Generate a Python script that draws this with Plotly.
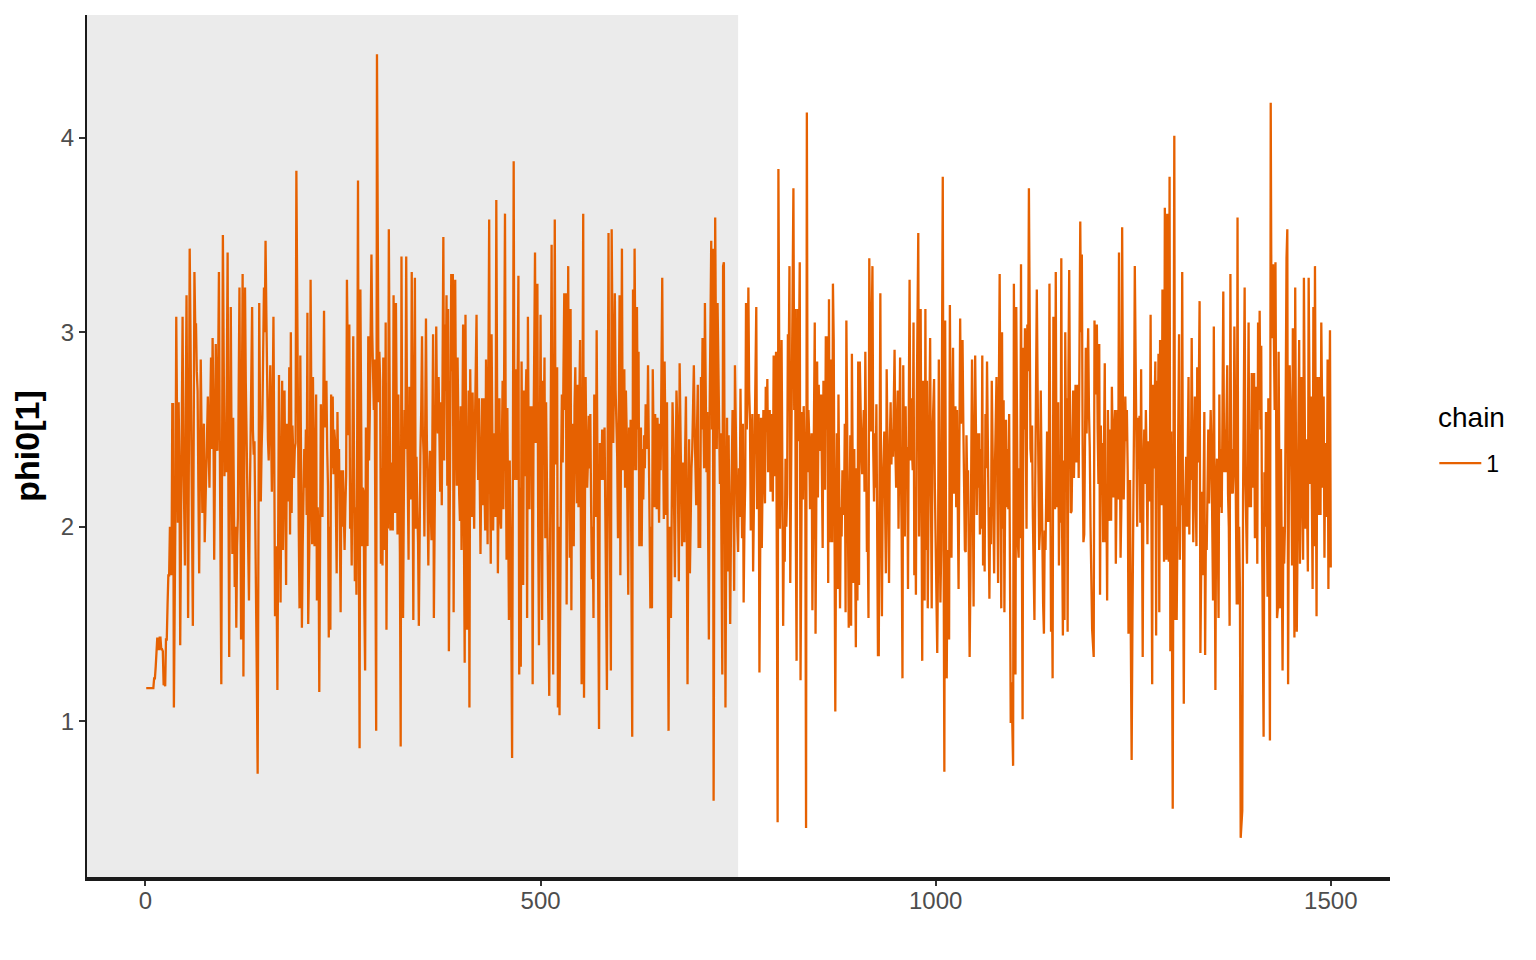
import plotly.graph_objects as go

# ---- data ----
chain_label = "1"
legend_title = "chain"
y_title = "phi0[1]"
n_warmup = 750
x_ticks = [0, 500, 1000, 1500]
y_ticks = [1, 2, 3, 4]

phi_0001_0150 = [
1.17,1.17,1.17,1.17,1.17,1.17,1.17,1.17,1.17,1.17,
1.22,1.22,1.28,1.36,1.43,1.37,1.37,1.43,1.43,1.37,
1.37,1.36,1.19,1.19,1.18,1.42,1.42,1.60,1.75,1.75,
2.00,1.85,1.75,2.63,2.63,1.07,1.50,2.10,3.08,2.55,
2.02,2.64,2.30,1.39,1.90,2.50,3.08,2.40,2.10,1.80,
2.60,3.19,2.40,1.53,2.40,3.43,3.00,2.64,2.00,1.49,
2.60,3.31,3.04,3.04,2.80,2.70,2.20,1.76,2.30,2.86,
2.50,2.07,2.30,2.53,1.92,2.10,2.26,2.45,2.67,2.40,
2.20,2.60,2.87,2.40,2.97,2.60,1.83,2.30,2.94,2.60,
2.39,2.80,3.31,2.50,1.80,1.19,2.40,3.50,2.90,2.26,
2.50,2.28,2.80,3.41,2.20,1.33,2.40,3.13,2.40,1.86,
2.56,2.20,1.69,2.00,1.48,1.90,2.05,2.70,3.23,2.40,
1.42,2.60,3.30,1.23,2.40,3.23,2.74,2.40,2.11,1.90,
1.62,2.10,2.49,2.90,3.13,2.50,2.37,2.44,2.10,1.58,
1.20,0.73,2.00,3.15,2.60,2.13,2.40,2.56,2.90,3.23,
]
phi_0151_0300 = [
3.00,3.47,3.10,2.53,2.45,2.34,2.60,2.83,2.50,2.18,
2.60,3.08,2.40,1.54,1.90,1.68,1.16,2.00,2.78,2.20,
1.61,2.20,2.75,1.88,2.30,2.70,2.20,1.70,2.53,2.30,
2.13,2.82,1.96,3.00,2.07,2.52,2.30,2.25,2.40,2.43,
3.83,3.00,2.39,2.00,1.58,2.88,2.30,1.48,1.90,2.15,
2.40,2.20,2.50,2.06,3.10,1.50,1.90,2.06,3.27,2.50,
1.91,2.77,2.30,1.90,2.30,2.68,1.62,2.10,1.96,1.15,
1.90,2.63,2.30,2.05,2.60,3.11,2.51,2.60,2.75,2.40,
2.21,1.43,2.00,1.47,2.68,2.30,2.67,2.27,2.50,2.44,
2.10,1.76,2.59,2.20,2.40,2.00,1.56,2.29,2.00,2.29,
2.10,1.88,2.10,2.26,3.27,2.80,2.47,3.04,1.99,2.20,
1.80,2.40,2.98,2.30,1.72,2.10,1.65,2.50,3.78,2.00,
0.86,3.22,2.50,1.90,2.20,2.18,1.60,1.26,2.51,2.20,
1.90,2.98,2.34,2.60,2.92,3.40,3.00,2.73,2.60,2.86,
1.80,0.95,4.43,3.20,2.64,2.90,2.75,1.81,2.30,1.80,
]
phi_0301_0450 = [
2.87,2.40,1.88,3.05,1.47,2.30,1.99,3.53,2.60,1.98,
2.33,2.10,1.98,3.19,2.60,2.07,3.15,2.50,1.96,2.68,
2.20,1.87,0.87,3.39,2.40,1.53,2.15,2.60,2.40,3.39,
2.60,2.18,1.83,2.72,2.30,2.14,3.31,2.30,1.52,2.60,
3.28,1.99,2.36,2.10,1.92,1.49,2.19,2.39,2.60,2.98,
2.50,2.37,1.95,2.40,3.07,2.50,1.95,1.80,2.20,2.39,
2.10,1.93,2.40,2.99,1.53,2.00,2.47,3.03,2.60,2.48,
2.77,2.40,2.18,2.64,2.11,2.80,3.49,2.34,3.04,2.70,
3.19,2.21,3.12,1.36,2.00,2.59,3.30,2.80,3.30,1.56,
2.40,3.27,2.60,2.21,2.87,2.40,2.17,2.03,2.62,1.88,
2.50,3.04,2.00,1.30,3.09,2.20,1.47,2.20,2.70,1.07,
2.81,2.40,2.05,2.69,2.30,1.99,2.53,2.80,3.09,2.50,
2.24,2.66,2.20,1.86,2.30,2.66,2.11,2.66,2.20,1.98,
2.86,2.40,1.91,2.80,3.58,2.30,1.81,2.99,2.40,1.98,
2.48,2.20,2.05,3.68,2.60,1.76,2.20,2.66,2.05,1.99,
]
phi_0451_0600 = [
2.40,2.75,2.09,2.90,3.61,2.40,1.83,2.61,2.00,1.52,
2.34,2.00,1.52,0.81,2.00,3.88,2.24,2.50,2.81,2.24,
2.90,3.29,1.24,2.20,1.28,2.85,2.20,1.70,2.70,2.26,
2.60,2.81,1.53,3.08,2.40,2.09,2.62,2.30,2.62,1.19,
2.40,3.33,3.41,2.43,2.80,3.25,2.00,1.39,2.30,3.09,
2.20,1.52,2.75,2.50,2.87,1.94,2.64,2.30,1.94,1.50,
1.13,1.84,2.60,3.45,2.30,1.24,2.40,3.58,2.32,2.60,
2.82,1.07,2.00,1.03,1.88,2.30,2.68,2.33,2.80,3.20,
2.60,3.20,1.60,2.50,3.34,2.30,1.84,3.12,1.57,2.53,
2.20,1.90,2.62,2.82,2.40,2.12,2.73,2.10,2.60,2.96,
2.00,1.19,2.50,3.61,1.12,2.20,2.77,2.40,2.20,2.34,
2.57,2.30,2.58,2.10,1.73,2.00,1.53,2.68,2.40,2.05,
3.01,2.40,1.72,0.96,2.43,2.30,2.24,2.50,2.39,2.24,
2.51,2.00,1.45,1.16,2.50,3.51,2.40,1.68,1.26,3.53,
2.80,2.43,2.80,3.20,2.70,2.50,2.36,1.94,2.60,3.19,
]
phi_0601_0750 = [
1.75,2.60,3.43,2.29,2.60,2.81,2.20,2.70,2.49,2.00,
1.65,2.51,2.20,2.55,1.50,0.92,3.22,2.29,3.43,2.70,
2.29,3.13,2.50,2.90,1.90,2.20,2.51,1.90,2.40,2.14,
2.47,2.30,2.63,2.55,2.40,2.83,2.40,2.03,1.58,2.00,
1.58,2.81,2.40,2.10,2.58,2.30,2.09,2.56,2.30,2.02,
2.53,2.29,2.80,3.28,2.50,2.04,2.85,2.40,2.06,2.64,
1.80,0.95,2.00,1.86,1.53,2.20,2.64,2.45,2.10,1.74,
2.30,2.70,2.55,2.10,1.72,2.84,2.40,2.02,1.90,2.33,
2.10,1.92,2.40,2.67,2.00,1.19,2.00,2.45,1.76,2.17,
2.30,2.40,2.60,2.83,2.51,2.30,2.11,2.50,2.73,1.89,
2.30,1.89,2.77,2.50,2.97,2.60,2.30,3.15,2.60,2.28,
2.59,2.00,1.42,2.60,3.00,3.47,2.50,3.43,0.59,2.00,
3.59,2.90,2.40,3.15,2.70,2.45,2.22,2.48,1.80,1.24,
3.34,3.36,2.20,1.07,2.00,2.56,1.77,2.47,2.00,1.50,
2.00,2.33,2.60,2.33,1.67,2.83,2.40,2.26,2.00,1.87,
]
phi_0751_0900 = [
2.30,2.05,2.71,2.30,1.94,2.53,1.61,2.00,2.22,3.15,
2.50,2.74,3.23,2.70,2.55,1.98,2.30,2.58,1.77,2.20,
2.59,2.90,3.13,2.09,2.40,2.58,1.25,2.00,2.56,1.89,
2.40,2.60,2.30,2.12,2.72,2.50,2.76,2.28,2.40,2.60,
2.18,2.40,2.58,2.13,2.88,2.26,2.60,2.90,1.80,0.48,
3.84,2.60,1.99,2.40,2.96,2.30,1.49,2.00,1.82,2.35,
2.00,2.17,2.99,2.80,3.34,1.71,2.20,2.63,3.20,3.74,
2.60,3.12,2.00,1.31,3.12,2.44,2.90,3.36,1.21,2.00,
2.59,2.14,2.62,2.40,2.29,0.45,4.13,2.28,2.60,2.46,
2.09,2.30,2.48,1.57,2.20,2.74,3.05,1.45,2.00,2.85,
2.15,2.73,2.50,2.39,2.68,2.30,1.89,2.75,2.40,2.19,
2.98,2.50,2.98,1.71,3.17,1.92,2.86,2.30,1.92,3.25,
2.96,2.00,1.05,2.00,2.48,1.68,2.68,2.20,1.58,2.10,
1.95,2.29,2.20,2.06,2.53,1.56,3.06,2.40,2.21,1.48,
2.00,2.47,1.49,2.89,2.30,1.71,2.40,1.90,1.38,2.30,
]
phi_0901_1050 = [
1.62,2.85,1.70,2.85,2.50,2.39,2.27,2.40,2.60,2.18,
2.90,2.40,1.87,2.00,1.53,3.38,2.80,2.49,3.00,3.34,
2.40,2.13,2.48,2.20,2.63,1.80,1.34,1.34,2.40,3.20,
2.10,1.54,2.20,2.41,2.49,2.10,1.76,2.81,2.30,2.00,
1.71,2.44,2.64,2.32,2.50,2.36,2.60,2.91,2.40,2.20,
2.50,2.70,1.99,2.40,2.87,2.30,1.94,1.22,2.83,2.30,
1.95,2.62,2.20,2.41,1.68,2.60,3.27,2.34,2.66,2.40,
2.29,3.05,1.75,2.20,1.65,2.60,3.39,3.51,1.95,2.60,
3.12,2.20,1.31,2.75,2.20,1.62,3.12,1.88,2.75,1.58,
2.10,2.48,2.97,2.20,1.58,2.47,2.60,2.76,2.20,1.81,
1.60,1.35,1.84,2.86,2.20,1.61,1.88,2.80,3.80,2.00,
0.74,3.06,2.00,1.22,1.88,1.60,1.42,3.14,2.40,1.84,
2.50,2.92,2.17,2.40,2.62,2.10,2.60,2.10,1.68,2.40,
3.07,2.53,2.80,2.96,2.53,2.20,1.88,1.87,2.47,2.20,
2.29,1.80,1.33,1.73,2.30,2.86,2.20,1.59,2.40,2.88,
]
phi_1051_1200 = [
2.50,2.06,2.48,2.20,2.48,1.96,2.40,1.99,2.88,1.80,
2.20,1.77,2.58,2.30,2.85,2.48,2.20,1.63,2.10,1.91,
2.75,2.30,1.92,1.76,2.30,2.71,2.77,2.20,1.71,2.70,
3.30,2.40,1.58,3.00,1.99,2.65,1.56,2.20,2.55,2.10,
2.40,2.09,2.58,1.80,0.99,1.20,1.00,0.77,3.25,2.20,
1.24,3.13,2.40,1.92,1.84,2.30,1.94,3.35,2.00,1.01,
2.92,2.50,3.02,2.40,1.99,3.04,2.80,3.74,2.64,2.40,
2.33,2.52,2.05,1.80,1.52,2.21,2.80,3.22,2.73,2.20,
1.88,1.98,2.70,2.30,1.86,1.60,1.45,1.98,1.88,2.20,
2.49,2.03,2.03,3.25,2.00,1.46,1.80,1.22,3.08,2.40,
2.09,3.31,2.10,2.40,2.64,1.80,2.20,2.02,3.38,2.00,
1.44,2.34,1.52,3.00,2.40,2.66,1.46,2.79,3.32,2.60,
2.07,2.08,2.40,2.70,2.25,2.50,2.73,2.33,2.50,2.73,
2.25,2.90,3.57,3.00,3.40,2.40,1.92,1.96,2.40,2.92,
2.48,2.70,3.02,2.60,2.41,2.00,1.53,1.47,1.40,1.33,
]
phi_1201_1350 = [
3.06,2.68,2.90,3.04,2.50,2.22,2.94,1.65,2.52,2.20,
2.43,1.92,2.40,2.84,1.92,2.20,1.62,2.60,2.30,2.03,
2.50,2.03,2.72,2.40,2.15,2.50,2.60,1.81,2.34,2.60,
2.14,3.41,2.50,1.84,2.10,3.54,2.60,2.14,2.40,2.67,
2.44,2.60,2.29,1.45,2.00,2.24,1.40,0.80,1.50,1.86,
2.53,3.34,2.70,2.36,2.00,2.56,2.30,2.57,2.02,2.81,
1.80,1.33,2.32,2.50,2.22,2.60,2.34,1.91,2.44,2.20,
2.13,3.09,2.20,1.19,2.73,2.30,2.60,2.85,1.44,2.75,
2.40,2.89,1.56,2.96,2.50,2.11,3.22,2.40,1.82,3.64,
2.60,1.83,3.61,2.50,1.82,3.80,1.36,2.49,1.60,0.55,
2.40,4.01,1.52,2.00,1.52,1.92,2.40,2.99,1.83,2.30,
2.11,3.31,2.00,1.09,2.00,2.29,2.36,2.00,2.40,2.77,
1.96,2.40,2.24,2.97,2.40,1.92,2.30,2.67,2.20,1.90,
2.82,2.33,2.70,3.16,1.35,2.00,2.18,1.75,2.30,2.59,
1.34,2.00,1.88,2.28,2.50,2.12,2.40,2.60,2.42,2.00,
]
phi_1351_1500 = [
1.62,3.03,2.00,1.16,2.22,2.35,2.00,1.53,2.68,2.10,
2.40,2.07,2.60,3.21,2.28,2.50,2.28,2.50,2.83,2.17,
2.00,1.49,3.30,2.17,2.40,2.17,2.29,3.03,2.60,2.29,
1.60,3.59,1.60,2.00,1.69,0.40,0.48,0.54,2.15,2.60,
3.23,2.22,2.00,1.81,2.40,3.05,2.10,2.40,2.10,2.79,
2.56,2.20,2.79,1.94,2.40,2.72,1.81,3.05,2.60,3.11,
2.50,2.93,1.99,1.40,0.92,2.28,2.00,2.59,2.20,1.64,
2.66,1.80,0.90,4.18,3.00,2.97,3.35,2.97,2.60,3.36,
2.20,1.53,1.58,2.90,2.20,1.58,2.40,1.86,1.26,2.00,
1.81,2.00,2.80,3.38,3.53,1.19,2.20,2.83,2.60,2.37,
1.80,3.02,2.20,1.43,3.23,2.20,1.46,1.95,2.40,2.96,
1.81,2.40,2.77,2.20,1.83,3.28,2.40,1.99,2.45,2.10,
1.77,3.28,2.60,2.22,2.67,2.20,1.68,3.13,1.90,3.34,
2.30,1.54,2.77,2.30,2.06,2.77,2.06,3.05,2.60,2.20,
2.67,1.84,2.43,2.20,2.05,2.86,1.68,2.40,3.01,1.79,
]

values = (phi_0001_0150 + phi_0151_0300 + phi_0301_0450 + phi_0451_0600 +
          phi_0601_0750 + phi_0751_0900 + phi_0901_1050 + phi_1051_1200 +
          phi_1201_1350 + phi_1351_1500)
iterations = list(range(1, len(values) + 1))

# ---- figure ----
FONT = "Liberation Sans, Arial, Helvetica, sans-serif"
LINE_COLOR = "#e66101"

n = len(values)
xpad = 0.05 * (n - 1)
x_range = [1 - xpad, n + xpad]
ymin, ymax = min(values), max(values)
ypad = 0.05 * (ymax - ymin)
y_range = [ymin - ypad, ymax + ypad]

fig = go.Figure()
fig.add_trace(go.Scatter(
    x=iterations, y=values, mode="lines", name=chain_label,
    line=dict(color=LINE_COLOR, width=2.3), showlegend=True,
))

# warmup shading
fig.add_shape(type="rect", xref="x", yref="paper",
              x0=x_range[0], x1=n_warmup, y0=0, y1=1,
              fillcolor="#EBEBEB", line=dict(width=0), layer="below")

# legend heading
fig.add_annotation(text=legend_title, xref="paper", yref="paper",
                   x=1.0353, y=0.5336, xanchor="left", yanchor="middle",
                   showarrow=False,
                   font=dict(size=28, family=FONT, color="#000000"))

fig.update_layout(
    width=1520, height=944,
    margin=dict(l=79, r=138, t=7, b=75, pad=0),
    paper_bgcolor="white", plot_bgcolor="white",
    font=dict(family=FONT, color="#000000"),
    showlegend=True,
    legend=dict(
        font=dict(size=23, family=FONT, color="#000000"),
        x=1.034, xanchor="left", y=0.48, yanchor="middle",
        itemwidth=42,
        bgcolor="rgba(0,0,0,0)", borderwidth=0,
    ),
    xaxis=dict(
        range=x_range, tickvals=x_ticks, ticktext=[str(v) for v in x_ticks],
        showgrid=False, zeroline=False,
        showline=True, linecolor="#1a1a1a", linewidth=4,
        ticks="outside", ticklen=5, tickwidth=1.5, tickcolor="#333333",
        ticklabelstandoff=-6,
        tickfont=dict(size=24, family=FONT, color="#4D4D4D"),
    ),
    yaxis=dict(
        range=y_range, tickvals=y_ticks, ticktext=[str(v) for v in y_ticks],
        showgrid=False, zeroline=False,
        showline=True, linecolor="#1a1a1a", linewidth=2,
        ticks="outside", ticklen=6, tickwidth=1.5, tickcolor="#333333",
        tickfont=dict(size=24, family=FONT, color="#4D4D4D"),
        title=dict(text="<b>" + y_title + "</b>",
                   font=dict(size=34, family=FONT, color="#000000"),
                   standoff=12),
    ),
)

fig.write_html("out.html")
